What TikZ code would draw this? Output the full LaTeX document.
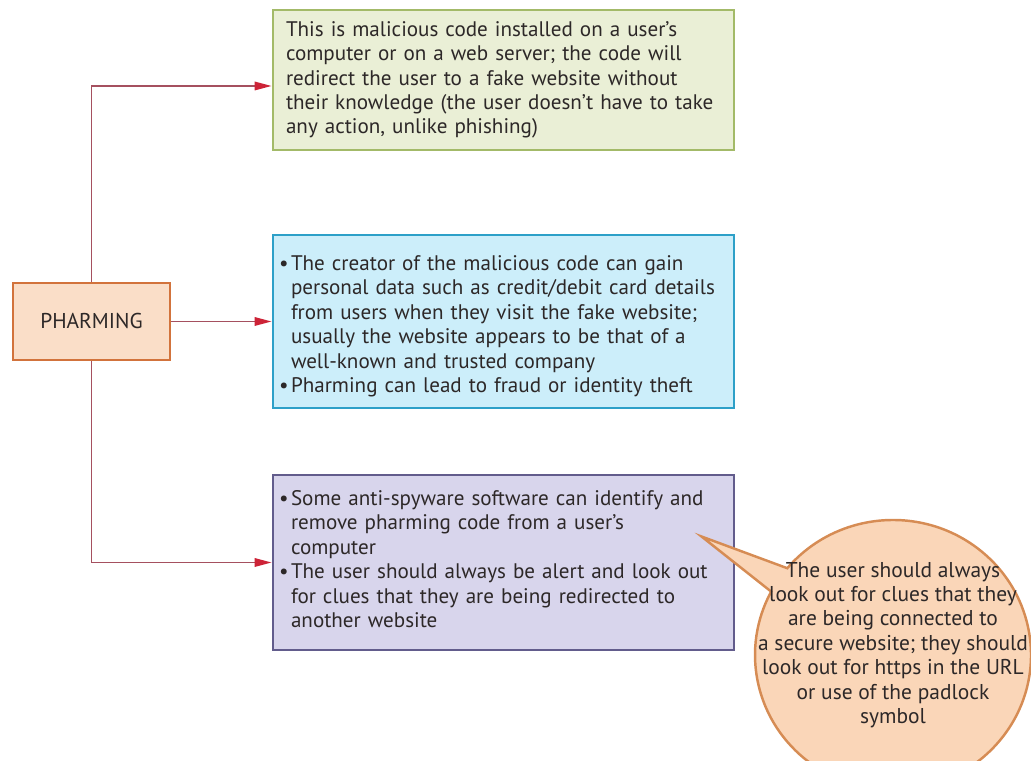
\documentclass[tikz,border=0pt]{standalone}
\usepackage{fontspec}
\setmainfont{PT Sans}
\usetikzlibrary{arrows.meta}

\definecolor{greenfill}{RGB}{234,239,214}
\definecolor{greenline}{RGB}{163,186,104}
\definecolor{bluefill}{RGB}{204,238,250}
\definecolor{blueline}{RGB}{45,160,200}
\definecolor{purplefill}{RGB}{216,213,236}
\definecolor{purpleline}{RGB}{98,92,140}
\definecolor{orangefill}{RGB}{250,222,200}
\definecolor{orangeline}{RGB}{210,115,60}
\definecolor{bubblefill}{RGB}{250,214,184}
\definecolor{bubbleline}{RGB}{214,140,84}
\definecolor{linkline}{RGB}{165,80,95}
\definecolor{linktip}{RGB}{205,35,55}
\definecolor{textgrey}{RGB}{45,40,40}

\newcommand{\boxfont}{\fontsize{12}{13.9}\selectfont\hyphenpenalty=10000\relax}
\newcommand{\bpoint}[1]{\par\hangindent=0.10cm\hangafter=1\noindent\hskip-0.14cm\makebox[0.24cm][l]{\textbullet}#1\par}

\begin{document}
\begin{tikzpicture}[thick,
    box/.style={draw, line width=1.6pt, text width=8.7cm, inner xsep=0.26cm, inner ysep=0pt, align=left,
      font=\boxfont, text=textgrey},
    link/.style={draw=linkline, line width=1pt, -{Triangle[length=3.4mm,width=1.7mm,color=linktip]}}]
    \useasboundingbox (0,0) rectangle (20.62,15.22);

    \node[box, fill=greenfill, draw=greenline, minimum height=2.8cm] (malware) at (10.07,13.62)
      {This is malicious code installed on a user’s\newline computer or on a web server; the code will\newline redirect the user to a fake website without\newline their knowledge (the user doesn’t have to take\newline any action, unlike phishing)};

    \node[box, fill=bluefill, draw=blueline, minimum height=3.46cm] (theft) at (10.07,8.79)
      {\bpoint{The creator of the malicious code can gain\newline personal data such as credit/debit card details\newline from users when they visit the fake website;\newline usually the website appears to be that of a\newline well-known and trusted company}
       \bpoint{Pharming can lead to fraud or identity theft}};

    \node[box, fill=purplefill, draw=purpleline, minimum height=3.5cm] (defence) at (10.07,3.97)
      {\bpoint{Some anti-spyware software can identify and\newline remove pharming code from a user’s\newline computer}
       \bpoint{The user should always be alert and look out\newline for clues that they are being redirected to\newline another website}\vspace*{0.32cm}};

    \node[draw=orangeline, fill=orangefill, line width=1.6pt, minimum width=3.14cm, minimum height=1.54cm,
      font=\fontsize{12.2}{13.9}\selectfont, text=textgrey] (pharming) at (1.83,8.79) {PHARMING};

    \draw[link] (pharming.north) |- ([yshift=-0.12cm]malware.west);
    \draw[link] (pharming.east) -- (theft.west);
    \draw[link] (pharming.south) |- (defence.west);

    % speech bubble
    \coordinate (hint) at (14.03,4.49);
    \filldraw[fill=bubblefill, draw=bubbleline, line width=1.4pt] (hint)
      -- ([shift={(140:2.76cm and 2.7cm)}]17.86,2.12)
      arc[start angle=140, end angle=-208, x radius=2.76cm, y radius=2.7cm] -- cycle;
    \node[align=center, font=\fontsize{12.2}{13.9}\selectfont, text=textgrey] (advice) at (17.86,2.32)
      {The user should always\\look out for clues that they\\are being connected to\\a secure website; they should\\look out for https in the URL\\or use of the padlock\\symbol};
\end{tikzpicture}
\end{document}
